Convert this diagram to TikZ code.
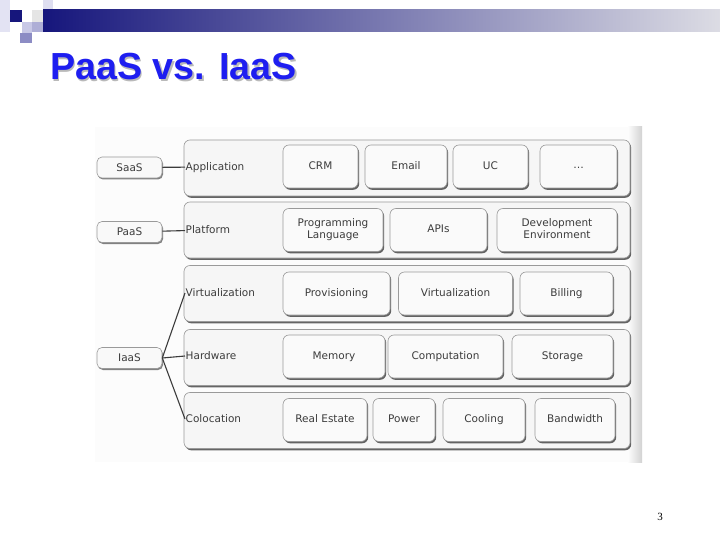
\documentclass[tikz,border=0pt]{standalone}
\usepackage{fontspec}
\setmainfont{Liberation Serif}
\newfontfamily\titlefont{Liberation Sans}
\newfontfamily\boxfont{DejaVu Sans}
\usetikzlibrary{shadows}
\definecolor{Navy}{HTML}{16167C}
\definecolor{BarEnd}{HTML}{DCDCE4}
\definecolor{Title}{HTML}{1E1EF0}
\definecolor{Ink}{HTML}{3C3C3C}
\definecolor{Frame}{HTML}{9A9A9A}
\definecolor{Lilac}{HTML}{C8C8E6}
\definecolor{Mauve}{HTML}{8C8CC4}

\begin{document}
\begin{tikzpicture}[x=1pt,y=-1pt,
    layer/.style={draw=Frame,line width=.6pt,fill=gray!7,rounded corners=6pt,minimum width=446pt,minimum height=56pt,
      drop shadow={shadow xshift=1.2pt,shadow yshift=-1.8pt,fill=black!80,opacity=.75}},
    cell/.style={draw=Frame,line width=.6pt,fill=gray!4,rounded corners=6pt,minimum height=43pt,align=center,
      font=\boxfont\fontsize{10.5}{12}\selectfont,text=Ink,execute at begin node={\rule[-2.5pt]{0pt}{10pt}},
      drop shadow={shadow xshift=1.2pt,shadow yshift=-1.8pt,fill=black!80,opacity=.75}},
    svc/.style={draw=Frame,line width=.6pt,fill=gray!5,rounded corners=5pt,minimum width=65pt,minimum height=21pt,
      font=\boxfont\fontsize{10.5}{12}\selectfont,text=Ink,
      drop shadow={shadow xshift=1pt,shadow yshift=-1.5pt,fill=black!75,opacity=.65}},
    lbl/.style={anchor=west,inner sep=.5pt,text height=10pt,text depth=2.5pt,font=\boxfont\fontsize{10.5}{12}\selectfont,text=Ink},
    link/.style={draw=Ink,line width=1.1pt},
    ttl/.style={anchor=base west,inner sep=0pt,font=\titlefont\bfseries\fontsize{37.7}{40}\selectfont}]
  \useasboundingbox (0,0) rectangle (720,540);
  % slide header
  \fill[Lilac!50] (0,0) rectangle (10,32);
  \fill[Lilac!60] (43,0) rectangle (53,10);
  \fill[gray!20] (32,10) rectangle (43,22);
  \fill[Navy] (10,10) rectangle (22,22);
  \fill[Lilac] (22,22) rectangle (32,33);
  \fill[Mauve!70] (32,22) rectangle (43,32);
  \fill[Mauve] (20,33) rectangle (32,43);
  \shade[left color=Navy,right color=BarEnd] (43,10) rectangle (720,32);
  \node[ttl,text=gray!55] at (51.5,81.5) {PaaS vs. IaaS};
  \node[ttl,text=Title] (title) at (50,80) {PaaS vs. IaaS};
  % scanned figure
  \fill[gray!2] (95,127) rectangle (632,462);
  \shade[left color=gray!2,right color=gray!35] (628,127) rectangle (642,462);
  \foreach \n/\yy in {1/168,2/230,3/293.5,4/357.5,5/420.5}
    \node[layer] (row\n) at (407,\yy) {};
  \foreach \nm/\cx/\w/\yy/\txt in {crm/320.5/75/166.5/CRM,email/406/82/166.5/Email,uc/490.5/75/166.5/UC,more/578.5/77/166.5/\ldots,
      prog/333/100/230/Programming\\Language,apis/438.5/97/230/APIs,dev/557/120/230/Development\\Environment,
      prov/336.5/107/293.5/Provisioning,virt/455.5/114/293.5/Virtualization,bill/566.5/93/293.5/Billing,
      mem/334/102/356.5/Memory,comp/445.5/115/356.5/Computation,stor/562.5/101/356.5/Storage,
      real/325/84/420/Real Estate,power/404/62/420/Power,cool/484/82/420/Cooling,band/575/80/420/Bandwidth}
    \node[cell,minimum width=\w pt] (\nm) at (\cx,\yy) {\txt};
  % service levels
  \node[svc] (saas) at (129.5,167.5) {SaaS};
  \node[svc] (paas) at (129.5,232) {PaaS};
  \node[svc] (iaas) at (129.5,358) {IaaS};
  \node[lbl] (app) at (185,167) {Application};
  \node[lbl] (plat) at (185,230) {Platform};
  \node[lbl] (virtl) at (185,293) {Virtualization};
  \node[lbl] (hard) at (185,356) {Hardware};
  \node[lbl] (colo) at (185,419) {Colocation};
  \draw[link] (saas) -- (app);
  \draw[link] (paas) -- (plat);
  \draw[link] (iaas.east) -- (virtl.west);
  \draw[link] (iaas.east) -- (hard.west);
  \draw[link] (iaas.east) -- (colo.west);
  \node (pnum) at (660,517) {\fontsize{11}{12}\selectfont 3};
\end{tikzpicture}
\end{document}
